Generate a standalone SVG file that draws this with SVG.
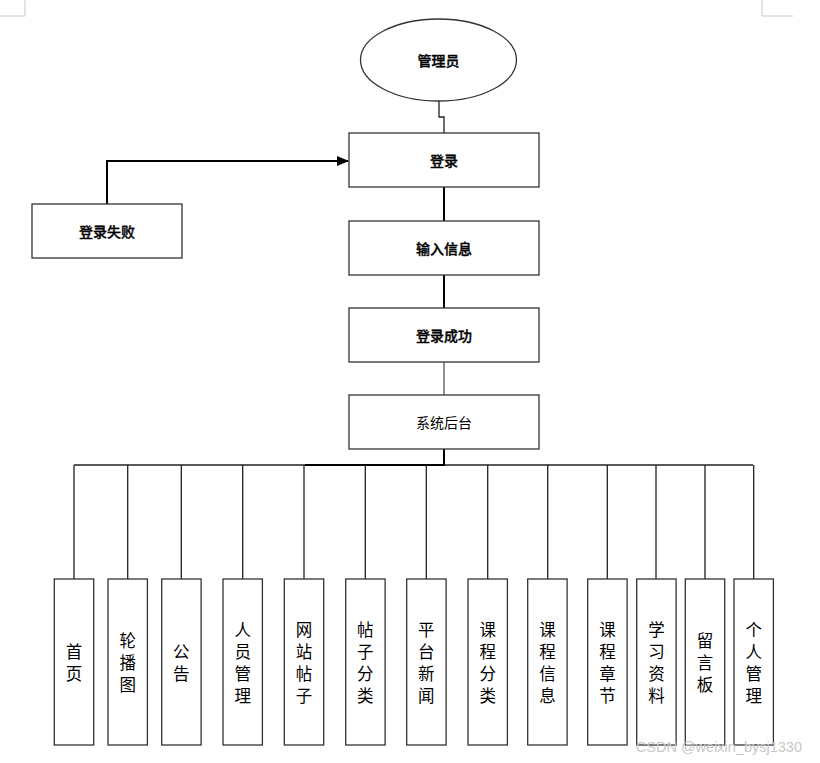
<svg xmlns="http://www.w3.org/2000/svg" width="820" height="763" viewBox="0 0 820 763">
<defs>
<marker id="arr" markerWidth="12" markerHeight="10" refX="11" refY="5" orient="auto" markerUnits="userSpaceOnUse">
<path d="M0,0 L12,5 L0,10 z" fill="#000"/>
</marker>
</defs>
<style>
.box{fill:#fff;stroke:#333;stroke-width:1.3}
.t{font-family:"Noto Sans CJK SC","Liberation Sans",sans-serif;font-size:14px;fill:#000;text-anchor:middle;dominant-baseline:central}
.b{font-weight:500;stroke:#000;stroke-width:0.35}
.v{font-family:"Noto Sans CJK SC","Liberation Sans",sans-serif;font-size:16.5px;fill:#000;text-anchor:middle;dominant-baseline:central}
.ln{fill:none;stroke:#222;stroke-width:1.3}
.thick{fill:none;stroke:#000;stroke-width:2}
.corner{fill:none;stroke:#c8c8c8;stroke-width:1}
</style>
<rect width="820" height="763" fill="#fff"/>
<path class="corner" d="M0,16 H25 V0"/>
<path class="corner" d="M762,0 V16 H793"/>
<g id="connectors">
<path class="ln" d="M439,101 V117 H444 V133"/>
<path class="thick" d="M107,204 V161 H348" marker-end="url(#arr)"/>
<path class="thick" d="M444,187 V221"/>
<path class="thick" d="M444,275 V308"/>
<path class="ln" style="stroke:#555" d="M444,362 V395"/>
<path class="thick" d="M444,449 V465"/>
<path class="ln" d="M74,465 H753"/>
<path class="thick" d="M305,465 H445"/>
<path class="ln" d="M74,465 V579 M127.7,465 V579 M181.3,465 V579 M242.7,465 V579 M304,465 V579 M365.3,465 V579 M426.3,465 V579 M487.7,465 V579 M547.7,465 V579 M607.3,465 V579 M656,465 V579 M705,465 V579 M753.7,465 V579"/>
</g>
<g id="admin">
<ellipse cx="438.5" cy="60" rx="78" ry="41" fill="#fff" stroke="#333" stroke-width="1.3"/>
<text class="t b" x="438.5" y="60">管理员</text>
</g>
<g id="login">
<rect class="box" x="349" y="133" width="190" height="54"/>
<text class="t b" x="444" y="160">登录</text>
</g>
<g id="loginFail">
<rect class="box" x="32" y="204" width="150" height="54"/>
<text class="t b" x="107" y="231">登录失败</text>
</g>
<g id="input">
<rect class="box" x="349" y="221" width="190" height="54"/>
<text class="t b" x="444" y="248">输入信息</text>
</g>
<g id="loginOk">
<rect class="box" x="349" y="308" width="190" height="54"/>
<text class="t b" x="444" y="335">登录成功</text>
</g>
<g id="backend">
<rect class="box" x="349" y="395" width="190" height="54"/>
<text class="t" x="444" y="422">系统后台</text>
</g>
<g id="m1"><rect class="box" x="54.3" y="579" width="39.4" height="166"/><text class="v" x="74"><tspan x="74" y="651">首</tspan><tspan x="74" y="673">页</tspan></text></g>
<g id="m2"><rect class="box" x="108" y="579" width="39.4" height="166"/><text class="v"><tspan x="127.7" y="640">轮</tspan><tspan x="127.7" y="662">播</tspan><tspan x="127.7" y="684">图</tspan></text></g>
<g id="m3"><rect class="box" x="161.7" y="579" width="39.4" height="166"/><text class="v"><tspan x="181.3" y="651">公</tspan><tspan x="181.3" y="673">告</tspan></text></g>
<g id="m4"><rect class="box" x="223" y="579" width="39.4" height="166"/><text class="v"><tspan x="242.7" y="629">人</tspan><tspan x="242.7" y="651">员</tspan><tspan x="242.7" y="673">管</tspan><tspan x="242.7" y="695">理</tspan></text></g>
<g id="m5"><rect class="box" x="284.3" y="579" width="39.4" height="166"/><text class="v"><tspan x="304" y="629">网</tspan><tspan x="304" y="651">站</tspan><tspan x="304" y="673">帖</tspan><tspan x="304" y="695">子</tspan></text></g>
<g id="m6"><rect class="box" x="345.7" y="579" width="39.4" height="166"/><text class="v"><tspan x="365.3" y="629">帖</tspan><tspan x="365.3" y="651">子</tspan><tspan x="365.3" y="673">分</tspan><tspan x="365.3" y="695">类</tspan></text></g>
<g id="m7"><rect class="box" x="406.7" y="579" width="39.4" height="166"/><text class="v"><tspan x="426.3" y="629">平</tspan><tspan x="426.3" y="651">台</tspan><tspan x="426.3" y="673">新</tspan><tspan x="426.3" y="695">闻</tspan></text></g>
<g id="m8"><rect class="box" x="468" y="579" width="39.4" height="166"/><text class="v"><tspan x="487.7" y="629">课</tspan><tspan x="487.7" y="651">程</tspan><tspan x="487.7" y="673">分</tspan><tspan x="487.7" y="695">类</tspan></text></g>
<g id="m9"><rect class="box" x="527.7" y="579" width="39.4" height="166"/><text class="v"><tspan x="547.4" y="629">课</tspan><tspan x="547.4" y="651">程</tspan><tspan x="547.4" y="673">信</tspan><tspan x="547.4" y="695">息</tspan></text></g>
<g id="m10"><rect class="box" x="587.7" y="579" width="39.4" height="166"/><text class="v"><tspan x="607.4" y="629">课</tspan><tspan x="607.4" y="651">程</tspan><tspan x="607.4" y="673">章</tspan><tspan x="607.4" y="695">节</tspan></text></g>
<g id="m11"><rect class="box" x="636.7" y="579" width="39.4" height="166"/><text class="v"><tspan x="656.4" y="629">学</tspan><tspan x="656.4" y="651">习</tspan><tspan x="656.4" y="673">资</tspan><tspan x="656.4" y="695">料</tspan></text></g>
<g id="m12"><rect class="box" x="685.3" y="579" width="39.4" height="166"/><text class="v"><tspan x="705" y="640">留</tspan><tspan x="705" y="662">言</tspan><tspan x="705" y="684">板</tspan></text></g>
<g id="m13"><rect class="box" x="734" y="579" width="39.4" height="166"/><text class="v"><tspan x="753.7" y="629">个</tspan><tspan x="753.7" y="651">人</tspan><tspan x="753.7" y="673">管</tspan><tspan x="753.7" y="695">理</tspan></text></g>
<text x="802" y="747" font-family="Liberation Sans,sans-serif" font-size="14.5" fill="#c8c8c8" text-anchor="end" dominant-baseline="central">CSDN @weixin_bysj1330</text>
</svg>
